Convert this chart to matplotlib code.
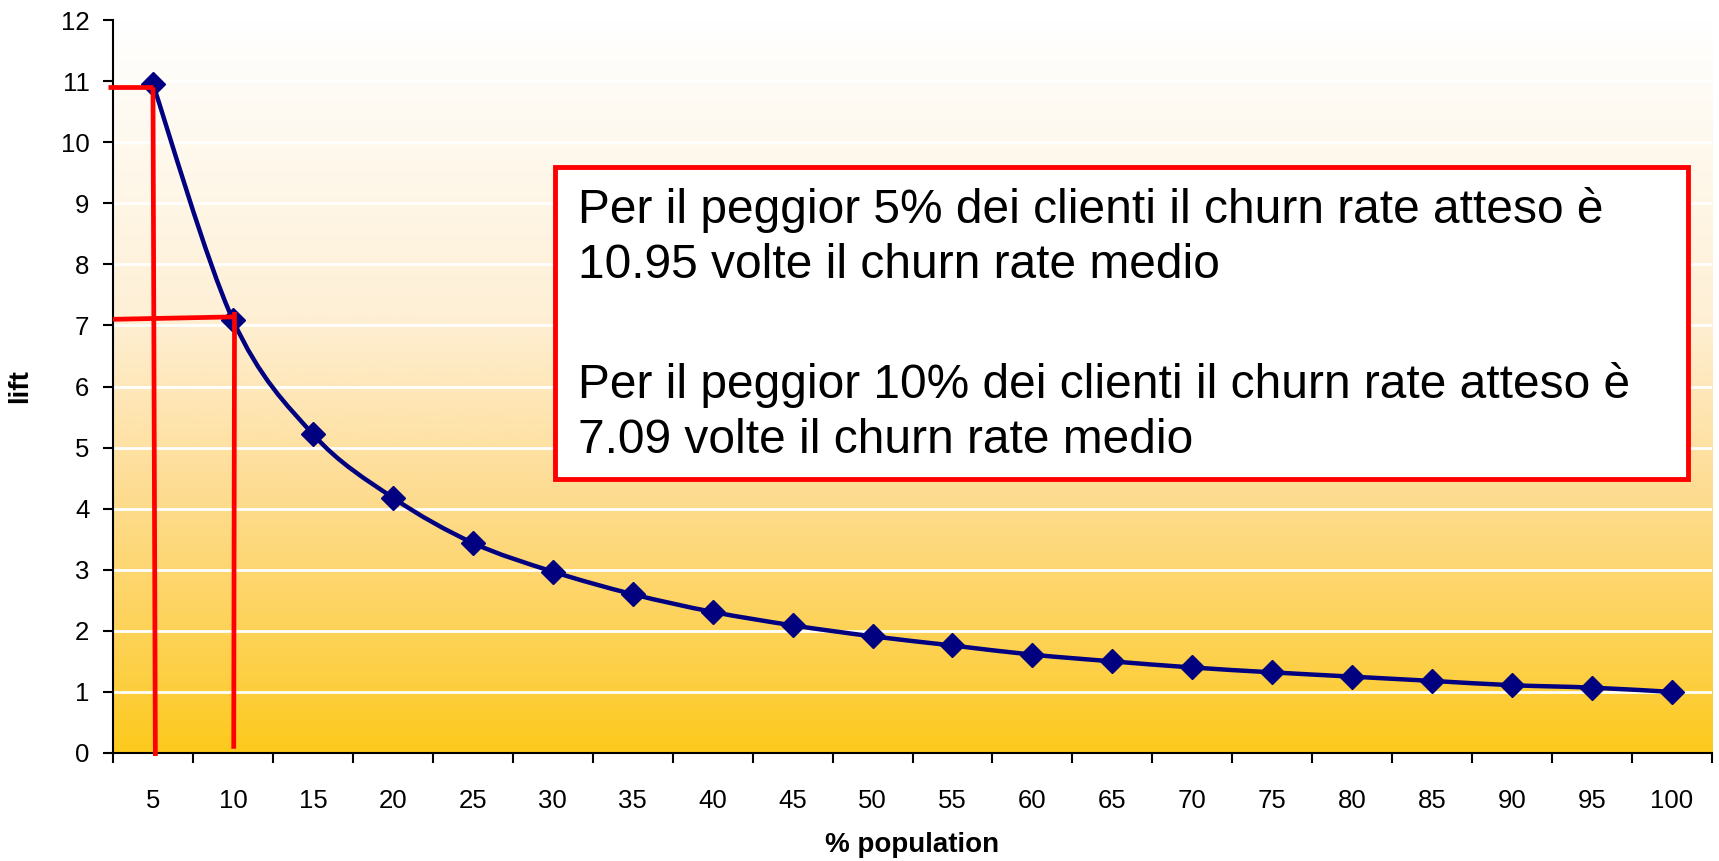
import numpy as np
import matplotlib
matplotlib.use("Agg")
import matplotlib.pyplot as plt
from matplotlib.path import Path
from matplotlib.patches import PathPatch, Rectangle
from matplotlib.colors import LinearSegmentedColormap

plt.rcParams['font.family'] = ['Liberation Sans', 'DejaVu Sans']

# dati
population = [5, 10, 15, 20, 25, 30, 35, 40, 45, 50,
              55, 60, 65, 70, 75, 80, 85, 90, 95, 100]
lift = [10.95, 7.09, 5.22, 4.18, 3.44, 2.97, 2.60, 2.31, 2.09, 1.91,
        1.76, 1.61, 1.50, 1.40, 1.32, 1.25, 1.18, 1.11, 1.07, 1.00]
yticks = list(range(0, 13))

testo = ["Per il peggior 5% dei clienti il churn rate atteso è",
         "10.95 volte il churn rate medio",
         "Per il peggior 10% dei clienti il churn rate atteso è",
         "7.09 volte il churn rate medio"]

W, H = 1719, 861
fig = plt.figure(figsize=(W / 100, H / 100), dpi=100)
ax = fig.add_axes([113 / W, 1 - 753 / H, (1712 - 113) / W, (753 - 20) / H])

x = np.arange(1, len(population) + 1)
ax.set_xlim(0.5, len(population) + 0.5)
ax.set_ylim(0, 12)

# sfondo sfumato bianco -> oro
grad = LinearSegmentedColormap.from_list(
    'oro', [(0.0, '#FCCA1C'), (0.12, '#FDD04A'), (0.37, '#FEDD96'),
            (0.6, '#FEF0D6'), (1.0, '#FFFFFF')])
ax.imshow(np.linspace(0, 1, 256).reshape(-1, 1), cmap=grad, aspect='auto',
          extent=[0.5, len(population) + 0.5, 0, 12], origin='lower', zorder=0)

for v in yticks[1:]:
    ax.axhline(v, color='white', lw=2, zorder=1)

# linea smussata (bezier tipo excel)
pts = np.column_stack([x, lift]).astype(float)
ext = np.vstack([pts[0], pts, pts[-1]])
verts = [tuple(pts[0])]
codes = [Path.MOVETO]
for i in range(len(pts) - 1):
    p0, p1, p2, p3 = ext[i], ext[i + 1], ext[i + 2], ext[i + 3]
    c1 = p1 + (p2 - p0) / 6
    c2 = p2 - (p3 - p1) / 6
    verts += [tuple(c1), tuple(c2), tuple(p2)]
    codes += [Path.CURVE4] * 3
ax.add_patch(PathPatch(Path(verts, codes), fill=False, edgecolor='#000080',
                       lw=3.2, zorder=3))
ax.plot(x, lift, ls='none', marker='D', ms=12, color='#000080', zorder=4)

# linee rosse
red = dict(color='red', lw=3.4, zorder=5, clip_on=False, solid_capstyle='butt')
ax.plot([0.44, 1.0], [10.9, 10.9], **red)
ax.plot([1.0, 1.03], [10.9, -0.05], **red)
ax.plot([0.5, 2.02], [7.10, 7.14], **red)
ax.plot([2.02, 2.01], [7.22, 0.07], **red)

# assi
for s in ['top', 'right']:
    ax.spines[s].set_visible(False)
ax.spines['left'].set_linewidth(1.5)
ax.spines['bottom'].set_linewidth(1.5)
ax.set_yticks(yticks)
ax.tick_params(axis='y', length=7, width=1.5, labelsize=18.5, pad=10)
ax.set_xticks(np.arange(0.5, len(population) + 1, 1))
ax.set_xticklabels([])
ax.tick_params(axis='x', which='major', length=7, width=1.5)
ax.set_xticks(x, minor=True)
ax.set_xticklabels([str(p) for p in population], minor=True)
ax.tick_params(axis='x', which='minor', length=0, labelsize=18.5, pad=26)

fig.text(912 / W, 1 - 845 / H, '% population', fontsize=20,
         fontweight='bold', ha='center', va='center')
fig.text(20 / W, 1 - 386 / H, 'lift', fontsize=20, fontweight='bold',
         rotation=90, ha='center', va='center')

# riquadro
fig.patches.append(Rectangle((555 / W, 1 - 479 / H), (1688 - 555) / W,
                             (479 - 167) / H, transform=fig.transFigure,
                             facecolor='white', edgecolor='red', lw=3.5,
                             zorder=6))
for riga, yb in zip(testo, [223, 278, 398, 453]):
    fig.text(578 / W, 1 - yb / H, riga, fontsize=34.5, va='baseline',
             ha='left', zorder=7)

fig.savefig('out.png', dpi=100)
